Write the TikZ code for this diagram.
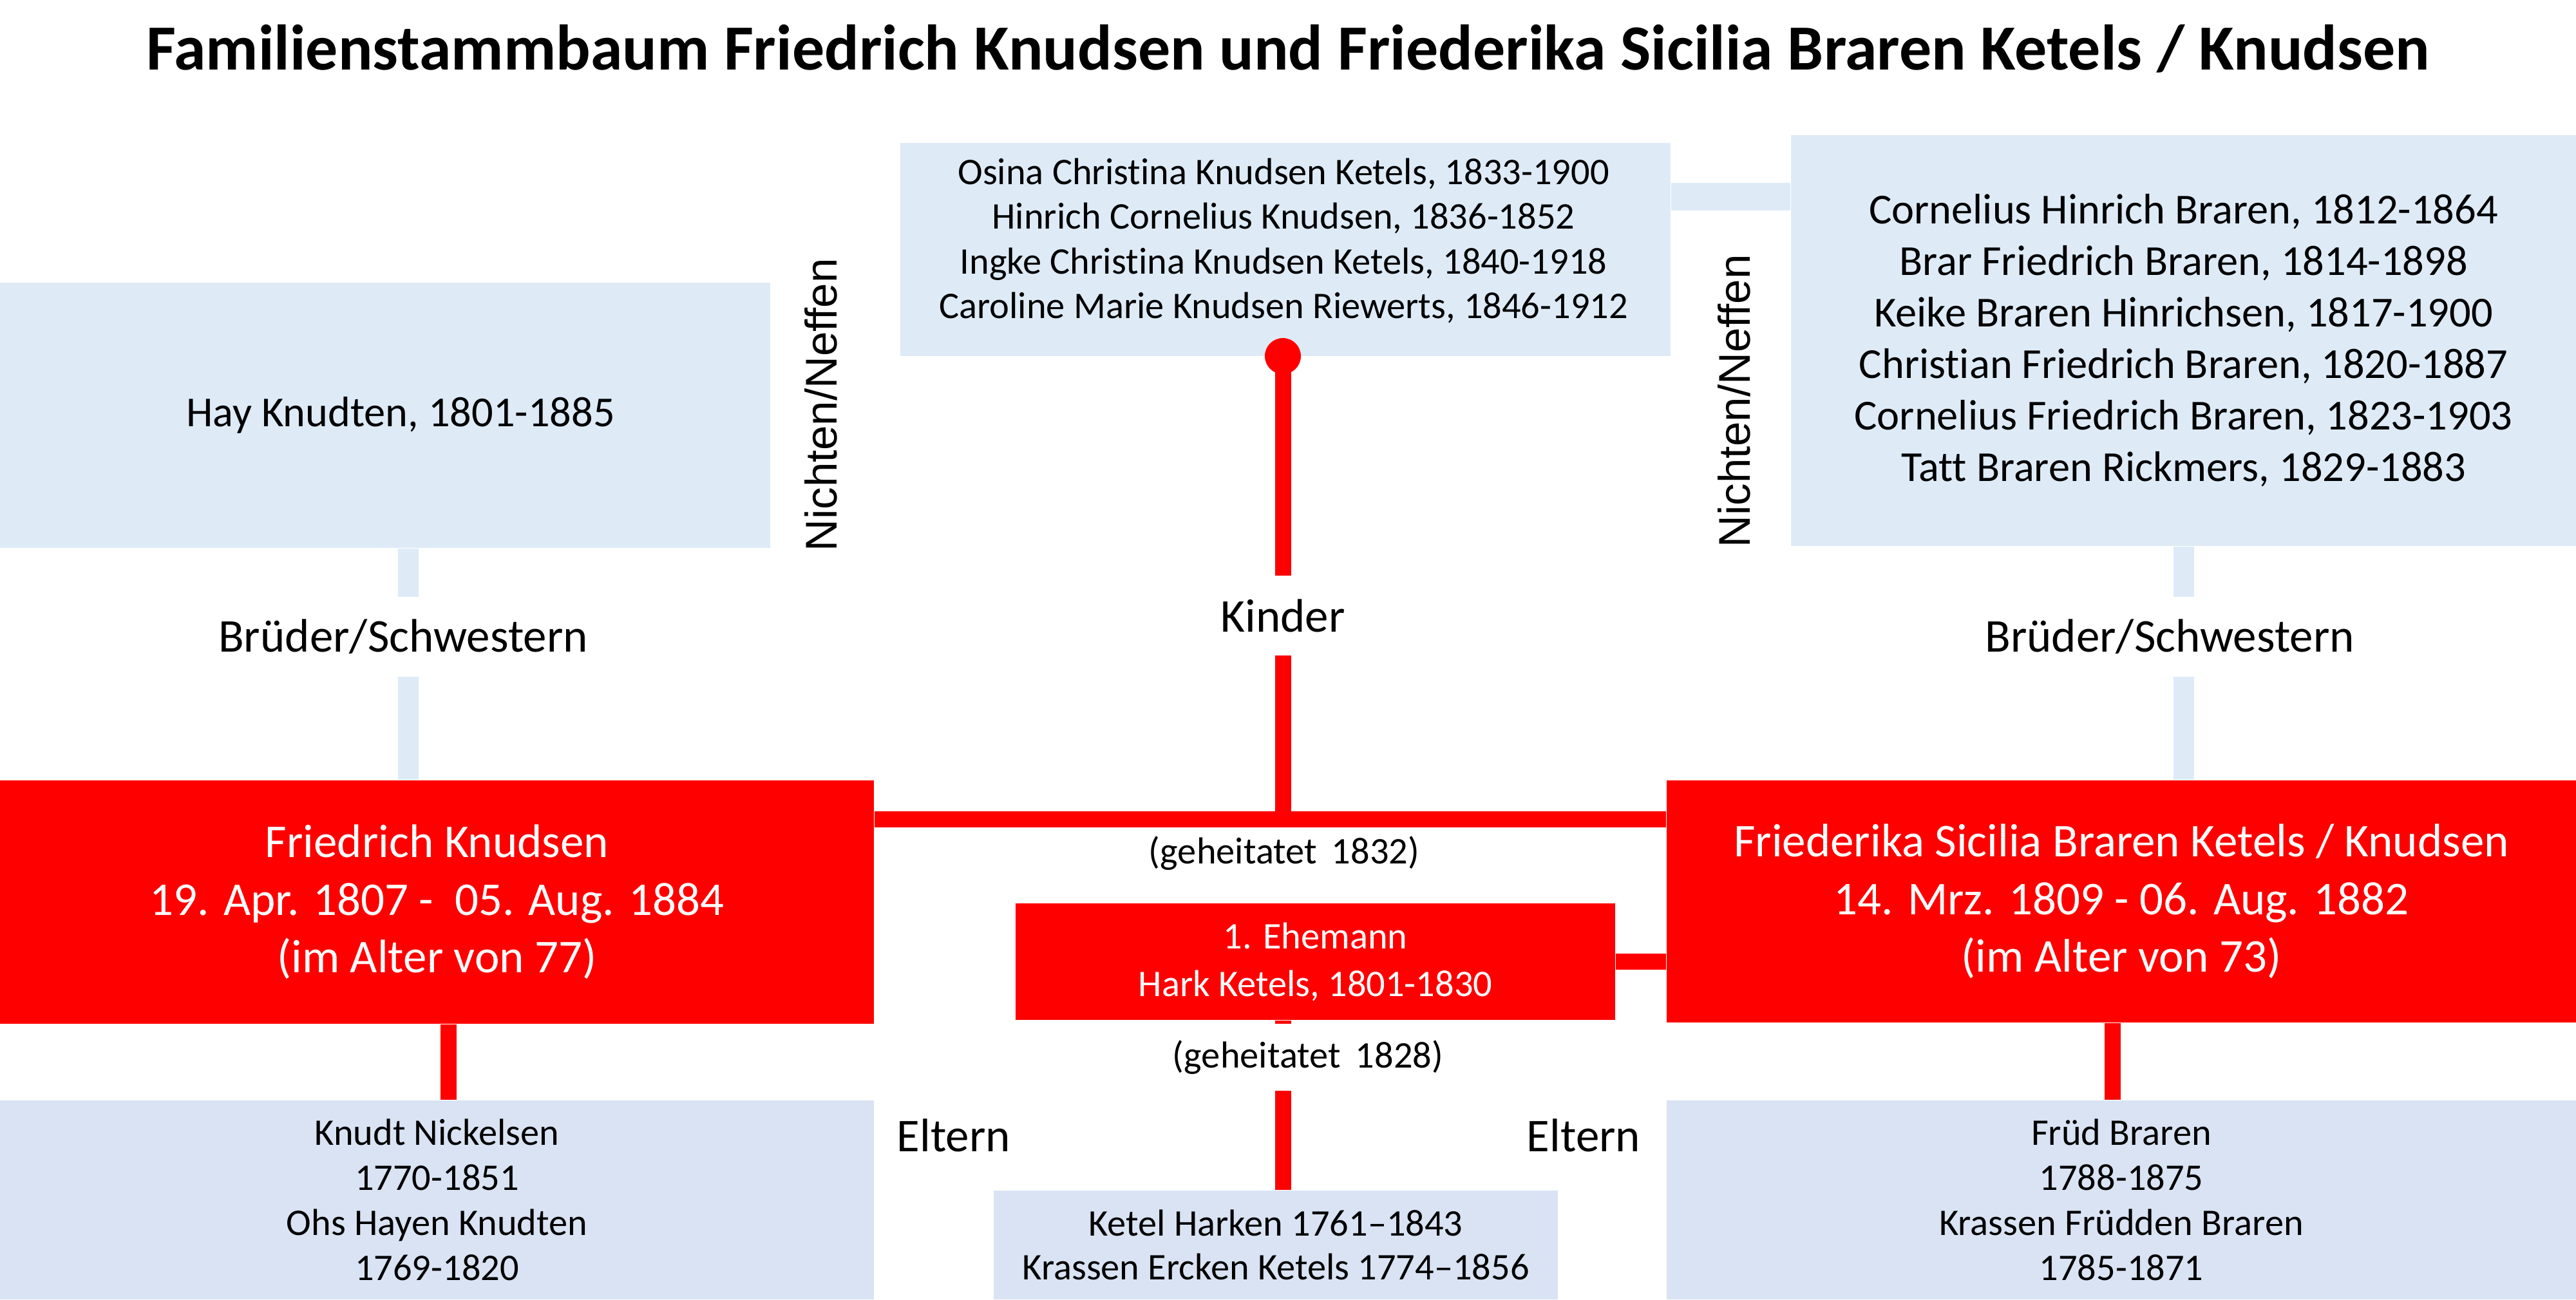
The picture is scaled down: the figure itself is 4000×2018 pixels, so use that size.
\documentclass[tikz,border=0pt]{standalone}
\usepackage{fontspec}
\setmainfont[Ligatures=NoCommon]{Carlito}
\newfontfamily\arialf[Ligatures=NoCommon]{Liberation Sans}
\usetikzlibrary{calc}
\definecolor{topblue}{HTML}{DEEBF7}
\definecolor{botblue}{HTML}{DAE3F3}
\definecolor{tred}{HTML}{FF0000}
\begin{document}
\begin{tikzpicture}[x=0.25pt,y=-0.25pt,
  box/.style={inner sep=0pt, align=center, draw=none},
  lightbox/.style={box, fill=topblue},
  parbox/.style={box, fill=botblue},
  redbox/.style={box, fill=tred, text=white},
  redline/.style={draw=tred, line width=6.25pt},
  blueline/.style={draw=topblue, line width=8pt},
  lab/.style={inner sep=0pt, font=\fontsize{18.25pt}{22pt}\selectfont},
  gaplab/.style={lab, fill=white, minimum height=30.5pt},
  small/.style={font=\fontsize{14.6pt}{17.5pt}\selectfont},
  nn/.style={rotate=90, inner sep=0pt, font=\arialf\fontsize{17.25pt}{20pt}\selectfont}
]
\useasboundingbox (0,0) rectangle (4000,2018);

\node[anchor=base, inner sep=0pt, font=\bfseries\fontsize{25pt}{29pt}\selectfont] (title) at (2000,108)
  {Familienstammbaum Friedrich Knudsen und Friederika Sicilia Braren Ketels / Knudsen};

% top boxes
\node[lightbox, minimum width=299pt, minimum height=82.75pt] (kids) at (1996,387.5) {};
\node[box, font=\fontsize{14.6pt}{17.4pt}\selectfont] (kidstext) at (1993,374)
  {Osina Christina Knudsen Ketels, 1833-1900\\Hinrich Cornelius Knudsen, 1836-1852\\Ingke Christina Knudsen Ketels, 1840-1918\\Caroline Marie Knudsen Riewerts, 1846-1912};
\node[lightbox, minimum width=304.75pt, minimum height=159.5pt, font=\fontsize{16.6pt}{20pt}\selectfont] (sib) at (3390.5,529)
  {Cornelius Hinrich Braren, 1812-1864\\Brar Friedrich Braren, 1814-1898\\Keike Braren Hinrichsen, 1817-1900\\Christian Friedrich Braren, 1820-1887\\Cornelius Friedrich Braren, 1823-1903\\Tatt Braren Rickmers, 1829-1883};
\node[lightbox, minimum width=299pt, minimum height=103pt, font=\fontsize{16.6pt}{20pt}\selectfont] (hay) at (598,645)
  {\hspace*{12pt}Hay Knudten, 1801-1885};

\draw[draw=topblue, line width=10.75pt] ([yshift=-21.1pt]kids.north east) -- ([yshift=-21.1pt]kids.north east -| sib.west);

\node[nn] (nn1) at (1275,629) {Nichten/Neffen};
\node[nn] (nn2) at (2693,623) {Nichten/Neffen};

% main persons
\node[redbox, minimum width=339.25pt, minimum height=94.5pt, font=\fontsize{18.25pt}{22.4pt}\selectfont] (fk) at (678.5,1401)
  {Friedrich Knudsen\\19. Apr. 1807 -~ 05. Aug. 1884\\(im Alter von 77)};
\node[redbox, minimum width=353pt, minimum height=94pt, font=\fontsize{18.25pt}{22.4pt}\selectfont] (fs) at (3294,1400)
  {Friederika Sicilia Braren Ketels / Knudsen\\14. Mrz. 1809 - 06. Aug. 1882\\(im Alter von 73)};

% siblings connectors
\node[gaplab] (bl) at (626,989) {Brüder/Schwestern};
\node[gaplab] (br) at (3369,989) {Brüder/Schwestern};
\draw[blueline] ([xshift=9pt]hay.south) -- ([xshift=9pt]hay.south |- bl.north);
\draw[blueline] ([xshift=9pt]hay.south |- bl.south) -- ([xshift=9pt]hay.south |- fk.north);
\draw[blueline] (sib.south) -- (sib.south |- br.north);
\draw[blueline] (sib.south |- br.south) -- (sib.south |- fs.north);

% children
\node[circle, fill=tred, minimum size=14pt, inner sep=0pt] (dot) at (1992,553) {};
\node[gaplab] (kinder) at (1992,956) {Kinder};
\coordinate (m) at (1992,1272);
\draw[redline] (dot.center) -- (kinder.north);
\draw[redline] (kinder.south) -- (m);
\draw[redline] (fk.east |- m) -- (fs.west |- m);
\node[anchor=base, inner sep=0pt, small] (g1832) at (1994,1341) {(geheitatet\hspace{0.4em}1832)};

% first husband
\node[redbox, minimum width=232.75pt, minimum height=45.25pt, font=\fontsize{14.6pt}{18.5pt}\selectfont] (eh) at (2042.5,1493.5)
  {1. Ehemann\\Hark Ketels, 1801-1830};
\draw[redline] (eh.east) -- (eh.east -| fs.west);
\node[inner sep=0pt, fill=white, minimum height=25.5pt, small] (g1828) at (2031,1642) {(geheitatet\hspace{0.4em}1828)};
\node[parbox, minimum width=219pt, minimum height=42.25pt, font=\fontsize{14.6pt}{17pt}\selectfont] (kp) at (1981,1933.5)
  {Ketel Harken 1761–1843\\Krassen Ercken Ketels 1774–1856};
\draw[redline] (eh.south -| m) -- (g1828.north -| m);
\draw[redline] (g1828.south -| m) -- (kp.north -| m);

% parents
\node[parbox, minimum width=339.25pt, minimum height=77.25pt, font=\fontsize{14.6pt}{17.5pt}\selectfont] (lp) at (678.5,1863.5)
  {Knudt Nickelsen\\1770-1851\\Ohs Hayen Knudten\\1769-1820};
\node[parbox, minimum width=353pt, minimum height=77.25pt, font=\fontsize{14.6pt}{17.5pt}\selectfont] (rp) at (3294,1863.5)
  {Früd Braren\\1788-1875\\Krassen Früdden Braren\\1785-1871};
\draw[redline] ([xshift=4.6pt]fk.south) -- ([xshift=4.6pt]lp.north);
\draw[redline] ([xshift=-3.5pt]fs.south) -- ([xshift=-3.5pt]rp.north);
\node[lab, anchor=base] (el1) at (1481,1788) {Eltern};
\node[lab, anchor=base] (el2) at (2459,1788) {Eltern};
\end{tikzpicture}
\end{document}
